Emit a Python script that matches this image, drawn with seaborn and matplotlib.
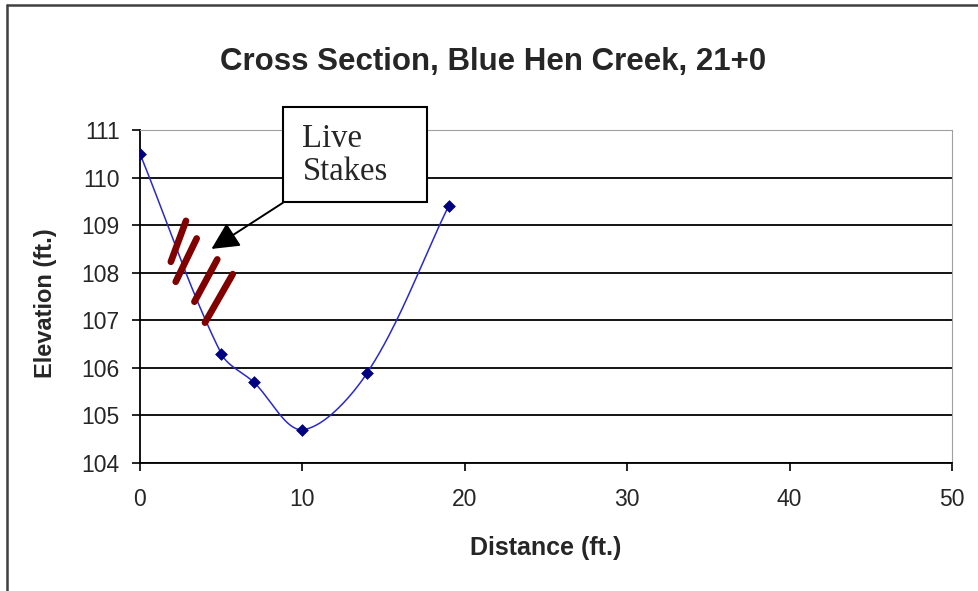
import numpy as np
import pandas as pd
import seaborn as sns
import matplotlib.pyplot as plt
from matplotlib.lines import Line2D
from matplotlib.patches import Rectangle

# cross section survey points
distance = [0, 5, 7, 10, 14, 19]
elevation = [110.5, 106.3, 105.7, 104.7, 105.9, 109.4]

# live stakes drawn on the bank (start x, start y, end x, end y)
stake_x0 = [1.9, 2.2, 3.35, 4.0]
stake_y0 = [108.23, 107.81, 107.39, 106.95]
stake_x1 = [2.83, 3.49, 4.76, 5.71]
stake_y1 = [109.09, 108.72, 108.28, 107.97]

x_ticks = [0, 10, 20, 30, 40, 50]
y_ticks = [104, 105, 106, 107, 108, 109, 110, 111]

df = pd.DataFrame({'Distance': distance, 'Elevation': elevation})

W, H = 979.0, 591.0
px_x = (952 - 140) / 50.0   # pixels per ft on the x axis
px_y = (463 - 130) / 7.0    # pixels per ft on the y axis


def smooth_line(xs, ys, n=40):
    # excel style smoothed line: bezier segments, tangents scaled by chord length
    p = np.column_stack([np.asarray(xs, float) * px_x, np.asarray(ys, float) * px_y])
    p = np.vstack([p[0], p, p[-1]])
    out = []
    for i in range(1, len(p) - 2):
        p0, p1, p2, p3 = p[i - 1], p[i], p[i + 1], p[i + 2]
        d01 = np.linalg.norm(p1 - p0)
        d12 = np.linalg.norm(p2 - p1)
        d23 = np.linalg.norm(p3 - p2)
        c1 = p1 + (p2 - p0) * d12 / (3 * (d01 + d12))
        c2 = p2 - (p3 - p1) * d12 / (3 * (d12 + d23))
        t = np.linspace(0, 1, n)[:, None]
        seg = (1 - t) ** 3 * p1 + 3 * (1 - t) ** 2 * t * c1 + 3 * (1 - t) * t ** 2 * c2 + t ** 3 * p2
        out.append(seg)
    out = np.vstack(out)
    return out[:, 0] / px_x, out[:, 1] / px_y


sns.set_style("white")
plt.rcParams['font.family'] = ['Liberation Sans', 'DejaVu Sans']

fig = plt.figure(figsize=(9.79, 5.91), dpi=100)
ax = fig.add_axes([140 / W, 1 - 463 / H, (952 - 140) / W, (463 - 130) / H])

sx, sy = smooth_line(df['Distance'], df['Elevation'])
sns.lineplot(x=sx, y=sy, ax=ax, color='#2a2ac8', lw=1.1, sort=False, estimator=None, zorder=4)
sns.scatterplot(data=df, x='Distance', y='Elevation', ax=ax, marker='D', s=36,
                color='#000080', edgecolor='#000080', zorder=5)

for a, b, c, d in zip(stake_x0, stake_y0, stake_x1, stake_y1):
    ax.plot([a, c], [b, d], color='#800000', lw=4.8, solid_capstyle='round', zorder=6)

ax.set_xlim(0, 50)
ax.set_ylim(104, 111)
ax.set_xticks(x_ticks)
ax.set_yticks(y_ticks)
ax.tick_params(axis='both', labelsize=16.5, color='black', direction='out', width=1.2,
               bottom=True, left=True)
ax.tick_params(axis='y', length=5.5, pad=9)
ax.tick_params(axis='x', length=6, pad=12)
ax.grid(axis='y', color='black', lw=1.3)
ax.set_axisbelow(True)
for g, v in zip(ax.get_ygridlines(), y_ticks):
    if v == 111:
        g.set_color('#a0a0a0')
ax.spines['left'].set_color('black')
ax.spines['bottom'].set_color('black')
ax.spines['left'].set_linewidth(1.3)
ax.spines['bottom'].set_linewidth(1.3)
ax.spines['top'].set_color('#a0a0a0')
ax.spines['right'].set_color('#a0a0a0')
ax.set_xlabel('')
ax.set_ylabel('')

# callout box
box = Rectangle((8.8, 109.49), 17.67 - 8.8, 111.48 - 109.49, facecolor='white',
                edgecolor='black', lw=1.5, clip_on=False, zorder=7)
ax.add_patch(box)
ax.text(10.0, 110.47, 'Live\nStakes', family=['Liberation Serif', 'DejaVu Serif'], fontsize=23.5,
        ha='left', va='center', linespacing=1.1, zorder=8, clip_on=False)
ax.annotate('', xy=(4.4, 108.5), xytext=(8.8, 109.47),
            arrowprops=dict(arrowstyle='-|>', mutation_scale=42, lw=1.4, color='black',
                            shrinkA=0, shrinkB=0), zorder=8)

fig.text(493 / W, 1 - 62 / H, 'Cross Section, Blue Hen Creek, 21+0', ha='center', va='center',
         fontsize=22.5, fontweight='bold')
fig.text(546 / W, 1 - 548 / H, 'Distance (ft.)', ha='center', va='center',
         fontsize=18, fontweight='bold')
fig.text(46 / W, 1 - 303 / H, 'Elevation (ft.)', ha='center', va='center', rotation=90,
         fontsize=17, fontweight='bold')

# chart area border (left and top edges visible)
fig.add_artist(Line2D([7 / W, 7 / W], [0, 1 - 5 / H], color='#404040', lw=1.8))
fig.add_artist(Line2D([7 / W, 1], [1 - 5 / H, 1 - 5 / H], color='#404040', lw=1.8))

fig.savefig('out.png', dpi=100)
